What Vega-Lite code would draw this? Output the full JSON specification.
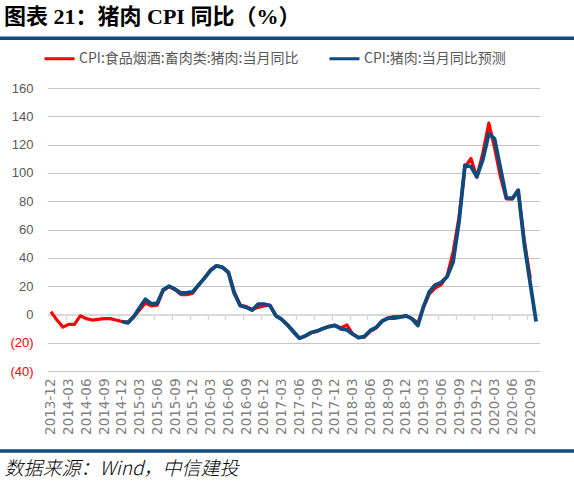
{
  "$schema": "https://vega.github.io/schema/vega-lite/v6.json",
  "width": 491,
  "height": 283,
  "autosize": {"type": "none"},
  "padding": {"left": 48, "top": 88, "right": 35, "bottom": 113},
  "background": "white",
  "title": {
    "text": "图表 21：猪肉 CPI 同比（%）",
    "anchor": "start",
    "frame": "group",
    "dx": -44,
    "offset": 7,
    "font": "Liberation Serif, Noto Sans CJK SC",
    "fontSize": 22,
    "fontWeight": "bold",
    "color": "#000000"
  },
  "datasets": {
    "pork": [
      {"date": "2013-12-01", "actual": 2, "forecast": null},
      {"date": "2014-01-01", "actual": -4, "forecast": null},
      {"date": "2014-02-01", "actual": -9, "forecast": null},
      {"date": "2014-03-01", "actual": -7, "forecast": null},
      {"date": "2014-04-01", "actual": -7, "forecast": null},
      {"date": "2014-05-01", "actual": -1, "forecast": null},
      {"date": "2014-06-01", "actual": -3, "forecast": null},
      {"date": "2014-07-01", "actual": -4, "forecast": null},
      {"date": "2014-08-01", "actual": -3.5, "forecast": null},
      {"date": "2014-09-01", "actual": -3, "forecast": null},
      {"date": "2014-10-01", "actual": -3, "forecast": null},
      {"date": "2014-11-01", "actual": -4, "forecast": null},
      {"date": "2014-12-01", "actual": -5, "forecast": -5},
      {"date": "2015-01-01", "actual": -5.5, "forecast": -6},
      {"date": "2015-02-01", "actual": -1.5, "forecast": -1.5},
      {"date": "2015-03-01", "actual": 3, "forecast": 4.5},
      {"date": "2015-04-01", "actual": 8, "forecast": 10.7},
      {"date": "2015-05-01", "actual": 6, "forecast": 7.5},
      {"date": "2015-06-01", "actual": 6.5, "forecast": 7.9},
      {"date": "2015-07-01", "actual": 16.7, "forecast": 17.3},
      {"date": "2015-08-01", "actual": 19.6, "forecast": 20},
      {"date": "2015-09-01", "actual": 17.4, "forecast": 17.8},
      {"date": "2015-10-01", "actual": 14, "forecast": 15},
      {"date": "2015-11-01", "actual": 14, "forecast": 15.4},
      {"date": "2015-12-01", "actual": 15, "forecast": 16},
      {"date": "2016-01-01", "actual": 21, "forecast": 21},
      {"date": "2016-02-01", "actual": 26, "forecast": 26},
      {"date": "2016-03-01", "actual": 31.5, "forecast": 31},
      {"date": "2016-04-01", "actual": 34.5, "forecast": 34.3},
      {"date": "2016-05-01", "actual": 33.5, "forecast": 33.3},
      {"date": "2016-06-01", "actual": 30, "forecast": 29.6},
      {"date": "2016-07-01", "actual": 16, "forecast": 15},
      {"date": "2016-08-01", "actual": 6.5, "forecast": 6.2},
      {"date": "2016-09-01", "actual": 5.5, "forecast": 5},
      {"date": "2016-10-01", "actual": 3.5, "forecast": 3},
      {"date": "2016-11-01", "actual": 5, "forecast": 7.2},
      {"date": "2016-12-01", "actual": 6, "forecast": 7.2},
      {"date": "2017-01-01", "actual": 6.5, "forecast": 6.2},
      {"date": "2017-02-01", "actual": -1, "forecast": -1},
      {"date": "2017-03-01", "actual": -3.5, "forecast": -3.4},
      {"date": "2017-04-01", "actual": -7.5, "forecast": -7.4},
      {"date": "2017-05-01", "actual": -12.5, "forecast": -12},
      {"date": "2017-06-01", "actual": -16.8, "forecast": -16.8},
      {"date": "2017-07-01", "actual": -15.5, "forecast": -15.2},
      {"date": "2017-08-01", "actual": -13, "forecast": -12.8},
      {"date": "2017-09-01", "actual": -12, "forecast": -11.7},
      {"date": "2017-10-01", "actual": -10, "forecast": -10},
      {"date": "2017-11-01", "actual": -8.5, "forecast": -8.6},
      {"date": "2017-12-01", "actual": -7.8, "forecast": -7.7},
      {"date": "2018-01-01", "actual": -9.5, "forecast": -10.2},
      {"date": "2018-02-01", "actual": -7.5, "forecast": -11},
      {"date": "2018-03-01", "actual": -13.5, "forecast": -13.8},
      {"date": "2018-04-01", "actual": -16.5, "forecast": -16.4},
      {"date": "2018-05-01", "actual": -16, "forecast": -15.7},
      {"date": "2018-06-01", "actual": -12, "forecast": -11.4},
      {"date": "2018-07-01", "actual": -9.5, "forecast": -9.3},
      {"date": "2018-08-01", "actual": -5, "forecast": -4.6},
      {"date": "2018-09-01", "actual": -2.5, "forecast": -2.7},
      {"date": "2018-10-01", "actual": -1.5, "forecast": -2.7},
      {"date": "2018-11-01", "actual": -1.5, "forecast": -2},
      {"date": "2018-12-01", "actual": -1, "forecast": -1},
      {"date": "2019-01-01", "actual": -3, "forecast": -3},
      {"date": "2019-02-01", "actual": -6, "forecast": -7.9},
      {"date": "2019-03-01", "actual": 5, "forecast": 5.1},
      {"date": "2019-04-01", "actual": 14.5, "forecast": 16},
      {"date": "2019-05-01", "actual": 18.5, "forecast": 20.8},
      {"date": "2019-06-01", "actual": 21, "forecast": 22.6},
      {"date": "2019-07-01", "actual": 27, "forecast": 26.6},
      {"date": "2019-08-01", "actual": 44, "forecast": 37},
      {"date": "2019-09-01", "actual": 69, "forecast": 66},
      {"date": "2019-10-01", "actual": 104, "forecast": 105.4},
      {"date": "2019-11-01", "actual": 110.2, "forecast": 104.5},
      {"date": "2019-12-01", "actual": 97, "forecast": 97.2},
      {"date": "2020-01-01", "actual": 114, "forecast": 109.4},
      {"date": "2020-02-01", "actual": 135.2, "forecast": 127.8},
      {"date": "2020-03-01", "actual": 118, "forecast": 124.2},
      {"date": "2020-04-01", "actual": 97, "forecast": 103},
      {"date": "2020-05-01", "actual": 81.7, "forecast": 82.4},
      {"date": "2020-06-01", "actual": 81.6, "forecast": 81.9},
      {"date": "2020-07-01", "actual": 87, "forecast": 87.8},
      {"date": "2020-08-01", "actual": 52.6, "forecast": 50},
      {"date": "2020-09-01", "actual": 25.5, "forecast": 21.9},
      {"date": "2020-10-01", "actual": null, "forecast": -5}
    ]
  },
  "layer": [
    {
      "data": {"name": "pork"},
      "mark": {"type": "line", "strokeWidth": 3.2, "strokeJoin": "round"},
      "encoding": {
        "x": {
          "field": "date",
          "type": "temporal",
          "scale": {
            "type": "utc",
            "domain": [
              {"year": 2013, "month": 11, "date": 16, "utc": true},
              {"year": 2020, "month": 10, "date": 16, "utc": true}
            ]
          },
          "axis": {
            "values": [
              {"year": 2013, "month": 12, "date": 1, "utc": true},
              {"year": 2014, "month": 3, "date": 1, "utc": true},
              {"year": 2014, "month": 6, "date": 1, "utc": true},
              {"year": 2014, "month": 9, "date": 1, "utc": true},
              {"year": 2014, "month": 12, "date": 1, "utc": true},
              {"year": 2015, "month": 3, "date": 1, "utc": true},
              {"year": 2015, "month": 6, "date": 1, "utc": true},
              {"year": 2015, "month": 9, "date": 1, "utc": true},
              {"year": 2015, "month": 12, "date": 1, "utc": true},
              {"year": 2016, "month": 3, "date": 1, "utc": true},
              {"year": 2016, "month": 6, "date": 1, "utc": true},
              {"year": 2016, "month": 9, "date": 1, "utc": true},
              {"year": 2016, "month": 12, "date": 1, "utc": true},
              {"year": 2017, "month": 3, "date": 1, "utc": true},
              {"year": 2017, "month": 6, "date": 1, "utc": true},
              {"year": 2017, "month": 9, "date": 1, "utc": true},
              {"year": 2017, "month": 12, "date": 1, "utc": true},
              {"year": 2018, "month": 3, "date": 1, "utc": true},
              {"year": 2018, "month": 6, "date": 1, "utc": true},
              {"year": 2018, "month": 9, "date": 1, "utc": true},
              {"year": 2018, "month": 12, "date": 1, "utc": true},
              {"year": 2019, "month": 3, "date": 1, "utc": true},
              {"year": 2019, "month": 6, "date": 1, "utc": true},
              {"year": 2019, "month": 9, "date": 1, "utc": true},
              {"year": 2019, "month": 12, "date": 1, "utc": true},
              {"year": 2020, "month": 3, "date": 1, "utc": true},
              {"year": 2020, "month": 6, "date": 1, "utc": true},
              {"year": 2020, "month": 9, "date": 1, "utc": true}
            ],
            "format": "%Y-%m",
            "labelAngle": 270,
            "labelFont": "DejaVu Sans",
            "labelFontSize": 13.5,
            "labelColor": "#808080",
            "labelPadding": 7,
            "labelOverlap": false,
            "labelFlush": false,
            "ticks": false,
            "domain": false,
            "grid": false,
            "title": "数据来源：Wind，中信建投",
            "titleFont": "Noto Sans CJK SC",
            "titleFontSize": 19,
            "titleFontStyle": "italic",
            "titleFontWeight": 300,
            "titleColor": "#000000",
            "titleAnchor": "start",
            "titleAlign": "left",
            "titleBaseline": "middle",
            "titleAngle": 0,
            "titleX": -44,
            "titleY": 97.5
          }
        },
        "y": {
          "field": "actual",
          "type": "quantitative",
          "title": null,
          "scale": {"domain": [-40, 160], "nice": false}
        },
        "color": {
          "datum": "CPI:食品烟酒:畜肉类:猪肉:当月同比",
          "type": "nominal",
          "scale": {
            "domain": ["CPI:食品烟酒:畜肉类:猪肉:当月同比", "CPI:猪肉:当月同比预测"],
            "range": ["#ff0000", "#0e4a7e"]
          },
          "legend": {
            "orient": "none",
            "legendX": -5,
            "legendY": -46,
            "direction": "horizontal",
            "title": null,
            "symbolType": "stroke",
            "symbolSize": 900,
            "symbolStrokeWidth": 3,
            "labelFont": "Noto Sans CJK SC",
            "labelFontSize": 14,
            "labelColor": "#595959",
            "labelLimit": 400,
            "labelOffset": 3,
            "columnPadding": 24
          }
        }
      }
    },
    {
      "data": {"name": "pork"},
      "mark": {"type": "line", "strokeWidth": 3.8, "strokeJoin": "round"},
      "encoding": {
        "x": {
          "field": "date",
          "type": "temporal",
          "axis": {
            "orient": "bottom",
            "offset": -56.6,
            "values": [
              {"year": 2013, "month": 11, "date": 15, "utc": true},
              {"year": 2014, "month": 2, "date": 15, "utc": true},
              {"year": 2014, "month": 5, "date": 15, "utc": true},
              {"year": 2014, "month": 8, "date": 15, "utc": true},
              {"year": 2014, "month": 11, "date": 15, "utc": true},
              {"year": 2015, "month": 2, "date": 15, "utc": true},
              {"year": 2015, "month": 5, "date": 15, "utc": true},
              {"year": 2015, "month": 8, "date": 15, "utc": true},
              {"year": 2015, "month": 11, "date": 15, "utc": true},
              {"year": 2016, "month": 2, "date": 15, "utc": true},
              {"year": 2016, "month": 5, "date": 15, "utc": true},
              {"year": 2016, "month": 8, "date": 15, "utc": true},
              {"year": 2016, "month": 11, "date": 15, "utc": true},
              {"year": 2017, "month": 2, "date": 15, "utc": true},
              {"year": 2017, "month": 5, "date": 15, "utc": true},
              {"year": 2017, "month": 8, "date": 15, "utc": true},
              {"year": 2017, "month": 11, "date": 15, "utc": true},
              {"year": 2018, "month": 2, "date": 15, "utc": true},
              {"year": 2018, "month": 5, "date": 15, "utc": true},
              {"year": 2018, "month": 8, "date": 15, "utc": true},
              {"year": 2018, "month": 11, "date": 15, "utc": true},
              {"year": 2019, "month": 2, "date": 15, "utc": true},
              {"year": 2019, "month": 5, "date": 15, "utc": true},
              {"year": 2019, "month": 8, "date": 15, "utc": true},
              {"year": 2019, "month": 11, "date": 15, "utc": true},
              {"year": 2020, "month": 2, "date": 15, "utc": true},
              {"year": 2020, "month": 5, "date": 15, "utc": true},
              {"year": 2020, "month": 8, "date": 15, "utc": true}
            ],
            "labels": false,
            "title": null,
            "grid": false,
            "domainColor": "#d9d9d9",
            "domainWidth": 2,
            "tickColor": "#d9d9d9",
            "tickWidth": 1.5,
            "tickSize": 5
          }
        },
        "y": {"field": "forecast", "type": "quantitative", "title": null},
        "color": {"datum": "CPI:猪肉:当月同比预测", "type": "nominal"}
      }
    },
    {
      "data": {"values": [{}]},
      "mark": {"type": "rule", "color": "#0e4a7e", "strokeWidth": 3.5},
      "encoding": {
        "x": {"datum": {"year": 2013, "month": 1, "date": 1, "utc": true}, "type": "temporal", "axis": null},
        "x2": {"datum": {"year": 2021, "month": 12, "date": 1, "utc": true}},
        "y": {"datum": 195.2, "type": "quantitative", "title": null}
      }
    },
    {
      "data": {"values": [{}]},
      "mark": {"type": "rule", "color": "#0e4a7e", "strokeWidth": 3.5},
      "encoding": {
        "x": {"datum": {"year": 2013, "month": 1, "date": 1, "utc": true}, "type": "temporal", "axis": null},
        "x2": {"datum": {"year": 2021, "month": 12, "date": 1, "utc": true}},
        "y": {"datum": -96.5, "type": "quantitative", "title": null}
      }
    }
  ],
  "resolve": {"axis": {"x": "independent"}},
  "config": {
    "view": {"stroke": null},
    "font": "Liberation Sans",
    "axisY": {
      "tickCount": 10,
      "domain": false,
      "ticks": false,
      "labelOverlap": false,
      "labelPadding": 15,
      "labelFont": "Liberation Sans",
      "labelFontSize": 13,
      "labelColor": {"condition": {"test": "datum.value < 0", "value": "#ff0000"}, "value": "#595959"},
      "labelExpr": "datum.value < 0 ? '(' + abs(datum.value) + ')' : datum.label",
      "gridColor": "#8c8c8c",
      "gridDash": [1, 1],
      "gridWidth": 1
    }
  }
}
